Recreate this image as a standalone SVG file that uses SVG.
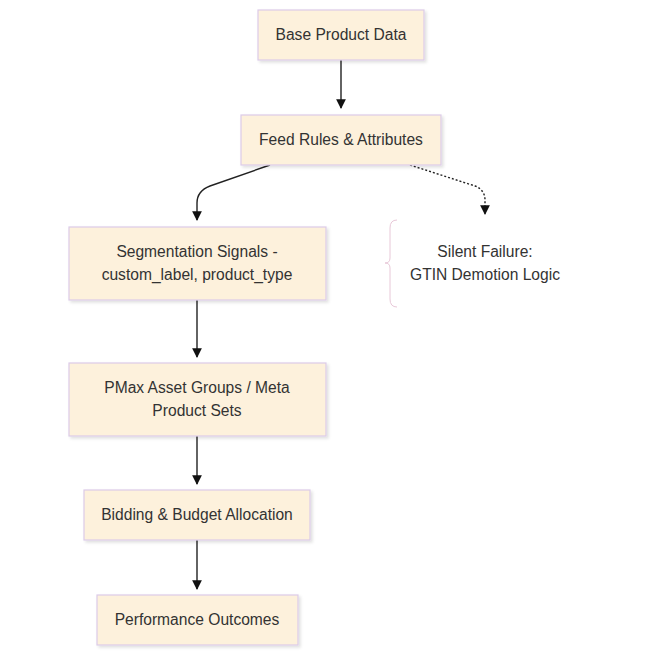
<svg xmlns="http://www.w3.org/2000/svg" width="655" height="655" viewBox="0 0 655 655">
<style>
.n rect{fill:#fdf1dc;stroke:#dccbe8;stroke-width:1.2;filter:url(#sh)}
text{font-family:"Liberation Sans",Arial,sans-serif;font-size:15.6px;fill:#333;text-anchor:middle}
.c{fill:none;stroke:#222;stroke-width:1.4}
</style>
<defs>
<filter id="sh" x="-10%" y="-10%" width="130%" height="140%"><feDropShadow dx="2" dy="2" stdDeviation="1.5" flood-color="#000" flood-opacity="0.12"/></filter>
<marker id="a" viewBox="0 0 10 10" refX="9" refY="5" markerWidth="7" markerHeight="7" orient="auto"><path d="M0,0L10,5L0,10z" fill="#111"/></marker>
</defs>
<rect width="655" height="655" fill="#fff"/>
<g id="connectors">
<path class="c" d="M341,60V108" marker-end="url(#a)"/>
<path class="c" d="M270,165L210,186Q197,191 197,203V220" marker-end="url(#a)"/>
<path class="c" d="M410,165L475,186Q485,190 485,200V214" stroke-dasharray="2,2" marker-end="url(#a)"/>
<path class="c" d="M197,300V357" marker-end="url(#a)"/>
<path class="c" d="M197,436V484" marker-end="url(#a)"/>
<path class="c" d="M197,540V589" marker-end="url(#a)"/>
</g>
<g id="base" class="n"><rect x="258" y="10" width="166" height="50"/><text x="341" y="40">Base Product Data</text></g>
<g id="feed" class="n"><rect x="241" y="115" width="200" height="50"/><text x="341" y="145">Feed Rules &amp; Attributes</text></g>
<g id="seg" class="n"><rect x="69" y="227" width="257" height="73"/><text x="197" y="257">Segmentation Signals -</text><text x="197" y="280">custom_label, product_type</text></g>
<g id="silent"><path d="M397,220Q390,220 390,228V258Q390,263 385,263Q390,263 390,268V299Q390,307 397,307" fill="none" stroke="#e8c8d8" stroke-width="1"/><text x="485" y="257">Silent Failure:</text><text x="485" y="280">GTIN Demotion Logic</text></g>
<g id="pmax" class="n"><rect x="69" y="363" width="257" height="73"/><text x="197" y="393">PMax Asset Groups / Meta</text><text x="197" y="416">Product Sets</text></g>
<g id="bid" class="n"><rect x="84" y="490" width="226" height="50"/><text x="197" y="520">Bidding &amp; Budget Allocation</text></g>
<g id="perf" class="n"><rect x="97" y="595" width="201" height="50"/><text x="197" y="625">Performance Outcomes</text></g>
</svg>
